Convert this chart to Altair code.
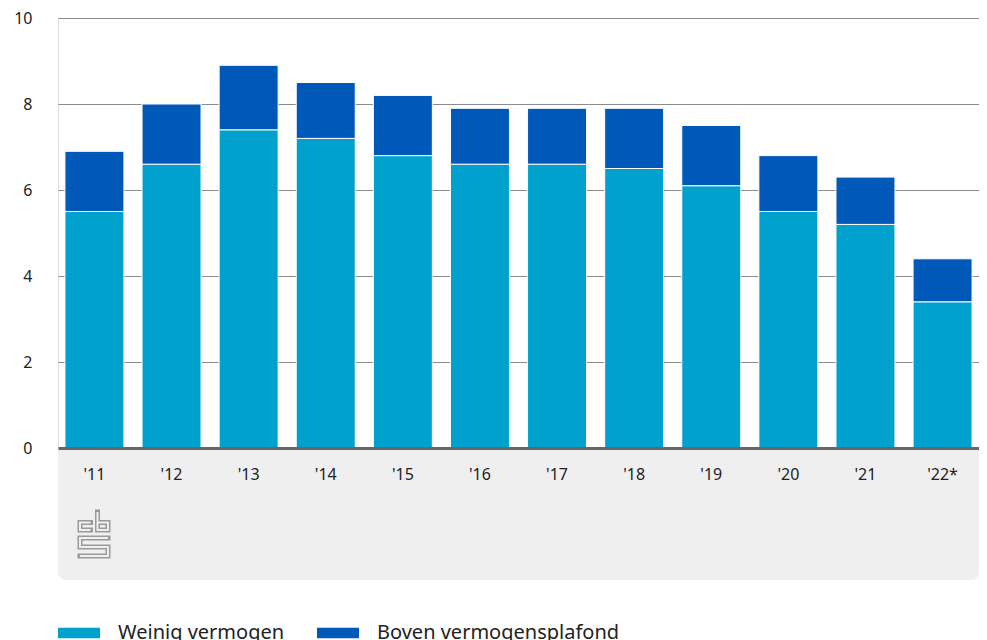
import altair as alt
import pandas as pd

years = ["'11", "'12", "'13", "'14", "'15", "'16", "'17", "'18", "'19", "'20", "'21", "'22*"]
weinig = [5.5, 6.6, 7.4, 7.2, 6.8, 6.6, 6.6, 6.5, 6.1, 5.5, 5.2, 3.4]
boven = [1.4, 1.4, 1.5, 1.3, 1.4, 1.3, 1.3, 1.4, 1.4, 1.3, 1.1, 1.0]
series = ["Weinig vermogen", "Boven vermogensplafond"]
colors = ["#00a1cd", "#0058b8"]
y_ticks = [0, 2, 4, 6, 8, 10]

rows = []
for i, yr in enumerate(years):
    rows.append({"jaar": yr, "groep": series[0], "waarde": weinig[i], "volg": 0})
    rows.append({"jaar": yr, "groep": series[1], "waarde": boven[i], "volg": 1})
df = pd.DataFrame(rows)

W, H = 921, 430
FONT = "Noto Sans"

# cbs logo as a custom symbol path (centerlines), normalised to [-1, 1]
logo_pts = [
    [(13, 11), (2.5, 11), (2.5, 18.5), (13, 18.5)],
    [(20, 0.5), (20, 18.5), (30.5, 18.5), (30.5, 11), (20, 11)],
    [(30.5, 26.5), (2.5, 26.5), (2.5, 35.5), (30.5, 35.5), (30.5, 44.5), (2.5, 44.5)],
]
def norm(p):
    return f"{(p[0] - 16.5) / 23.5:.4f},{(p[1] - 23.5) / 23.5:.4f}"
logo_path = " ".join(
    "M" + norm(seg[0]) + " " + " ".join("L" + norm(p) for p in seg[1:]) for seg in logo_pts
)

base = alt.Chart(df)

panel = base.mark_rect(color="#efefef", cornerRadiusBottomLeft=9, cornerRadiusBottomRight=9).encode(
    x=alt.value(0), x2=alt.value(W), y=alt.value(H), y2=alt.value(H + 132)
)

bars = base.mark_bar(stroke="white", strokeWidth=1).encode(
    x=alt.X("jaar:N", sort=years, title=None,
            scale=alt.Scale(paddingInner=0.235, paddingOuter=0.09),
            axis=alt.Axis(labelAngle=0, labelFontSize=16, labelColor="#222222", labelFont=FONT,
                          labelPadding=18, ticks=False, domainColor="#666666", domainWidth=3,
                          zindex=1, grid=False)),
    y=alt.Y("waarde:Q", stack="zero", title=None,
            scale=alt.Scale(domain=[0, 10], nice=False),
            axis=alt.Axis(values=y_ticks, labelFontSize=16, labelColor="#222222", labelFont=FONT,
                          labelPadding=26, ticks=False, domain=False, gridColor="#8c8c8c",
                          gridWidth=1)),
    color=alt.Color("groep:N", sort=series, scale=alt.Scale(domain=series, range=colors),
                    legend=alt.Legend(title=None, orient="none", legendX=0, legendY=594,
                                      direction="horizontal", columns=2, padding=0,
                                      symbolType="M-1,-0.25H1V0.25H-1Z", symbolSize=1764,
                                      symbolStrokeWidth=0, labelFontSize=20, labelFont=FONT,
                                      labelColor="#222222", labelOffset=18, columnPadding=32,
                                      labelLimit=400)),
    order=alt.Order("volg:Q", sort="ascending"),
)

logo_df = pd.DataFrame({"k": ["cbs"]})
logo_outer = alt.Chart(logo_df).mark_point(
    shape=logo_path, size=47 * 47, filled=False, stroke="#9a9a9a", strokeWidth=5,
    strokeCap="square", opacity=1
).encode(x=alt.value(36), y=alt.value(H + 87))
logo_inner = alt.Chart(logo_df).mark_point(
    shape=logo_path, size=47 * 47, filled=False, stroke="#efefef", strokeWidth=2,
    strokeCap="butt", opacity=1
).encode(x=alt.value(36), y=alt.value(H + 87))

chart = alt.layer(panel, bars, logo_outer, logo_inner).properties(
    width=W, height=H,
    autosize=alt.AutoSizeParams(type="none"),
    padding={"left": 50, "top": 10, "right": 0, "bottom": 220},
).configure_view(stroke=None).configure(background="white")

chart.save("out.html", embed_options={"renderer": "svg", "actions": False})
